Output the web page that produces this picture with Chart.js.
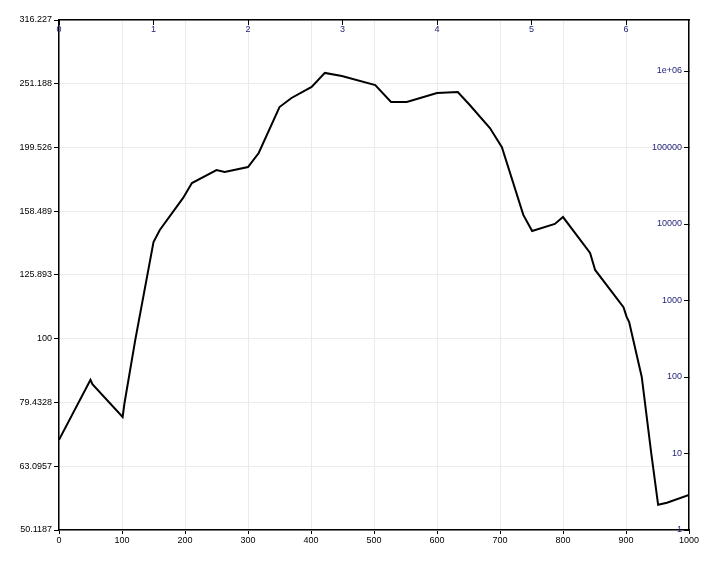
<!DOCTYPE html>
<html>
<head>
<meta charset="utf-8">
<script src="https://cdn.jsdelivr.net/npm/chart.js@4/dist/chart.umd.min.js"></script>
<style>
	body { margin: 0; background: #fff; }
	#wrap { width: 710px; height: 580px; }
</style>
</head>
<body>
<div id="wrap"><canvas id="curve-chart"></canvas></div>
<script>
// curve (bottom axis / left log axis)
const xs = [0, 50, 53, 101, 104, 121, 150, 160, 197, 211, 250, 263, 300, 317, 350, 369, 401, 422, 449, 502, 527, 552, 600, 633, 652, 684, 703, 737, 751, 787, 800, 843, 851, 896, 901, 905, 925, 940, 951, 965, 1000]
const ys = [69.4, 86.2, 84.9, 75.4, 79.3, 99.5, 141.8, 148.1, 166.3, 175.5, 183.9, 182.6, 185.9, 195.6, 230.9, 238.6, 248.3, 261.2, 258.4, 250.0, 235.2, 235.2, 242.9, 243.8, 232.6, 214.1, 199.8, 156.4, 147.6, 151.4, 155.2, 136.3, 128.2, 112.1, 108.2, 106.2, 87.1, 66.2, 54.9, 55.3, 56.9]

const leftTicks = [50.1187, 63.0957, 79.4328, 100, 125.893, 158.489, 199.526, 251.188, 316.227]
const bottomTicks = [0, 100, 200, 300, 400, 500, 600, 700, 800, 900, 1000]
const topTicks = [0, 1, 2, 3, 4, 5, 6]
const topMax = 20 / 3
const rightTicks = [1, 10, 100, 1000, 10000, 100000, 1000000]
const rightLabels = ['1', '10', '100', '1000', '10000', '100000', '1e+06']
const rightMax = Math.pow(10, 20 / 3)

const points = xs.map((x, i) => ({ x, y: ys[i] }))

const font = { family: 'Liberation Sans, Arial, sans-serif', size: 9 }
const black = '#000'
const blue = '#24247a'
const gridGray = '#ebebeb'

const setTicks = (vals) => (scale) => { scale.ticks = vals.map(v => ({ value: v })) }

const ctx = document.getElementById('curve-chart').getContext('2d')
new Chart(ctx, {
	type: 'line',
	data: {
		datasets: [{
			data: points,
			xAxisID: 'x',
			yAxisID: 'y',
			borderColor: black,
			borderWidth: 2,
			pointRadius: 0,
			tension: 0,
			fill: false
		}]
	},
	options: {
		responsive: true,
		maintainAspectRatio: false,
		animation: false,
		layout: { padding: 0 },
		plugins: {
			legend: { display: false },
			tooltip: { enabled: false }
		},
		scales: {
			x: {
				type: 'linear',
				position: 'bottom',
				min: 0,
				max: 1000,
				afterBuildTicks: setTicks(bottomTicks),
				afterFit: (s) => { s.height = 50 },
				grid: { color: gridGray, tickColor: black, tickLength: 4 },
				border: { color: black, width: 1.5 },
				ticks: { color: black, font, padding: 1, maxRotation: 0, autoSkip: false, callback: (v) => String(v) }
			},
			y: {
				type: 'logarithmic',
				position: 'left',
				min: leftTicks[0],
				max: leftTicks[leftTicks.length - 1],
				afterBuildTicks: setTicks(leftTicks),
				afterFit: (s) => { s.width = 59 },
				grid: { color: gridGray, tickColor: black, tickLength: 5 },
				border: { color: black, width: 1.5 },
				ticks: { color: black, font, padding: 2, autoSkip: false, callback: (v) => String(v) }
			},
			xTop: {
				type: 'linear',
				position: 'top',
				min: 0,
				max: topMax,
				afterBuildTicks: setTicks(topTicks),
				afterFit: (s) => { s.height = 20 },
				grid: { drawOnChartArea: false, tickColor: black, tickLength: -5 },
				border: { color: black, width: 1.5 },
				ticks: { color: blue, font, mirror: true, padding: 4, maxRotation: 0, autoSkip: false, callback: (v) => String(v) }
			},
			yRight: {
				type: 'logarithmic',
				position: 'right',
				min: 1,
				max: rightMax,
				afterBuildTicks: setTicks(rightTicks),
				afterFit: (s) => { s.width = 21 },
				grid: { drawOnChartArea: false, tickColor: black, tickLength: -5 },
				border: { color: black, width: 1.5 },
				ticks: {
					color: blue, font, mirror: true, padding: -7, autoSkip: false,
					callback: (v, i) => rightLabels[i]
				}
			}
		}
	}
})
</script>
</body>
</html>
